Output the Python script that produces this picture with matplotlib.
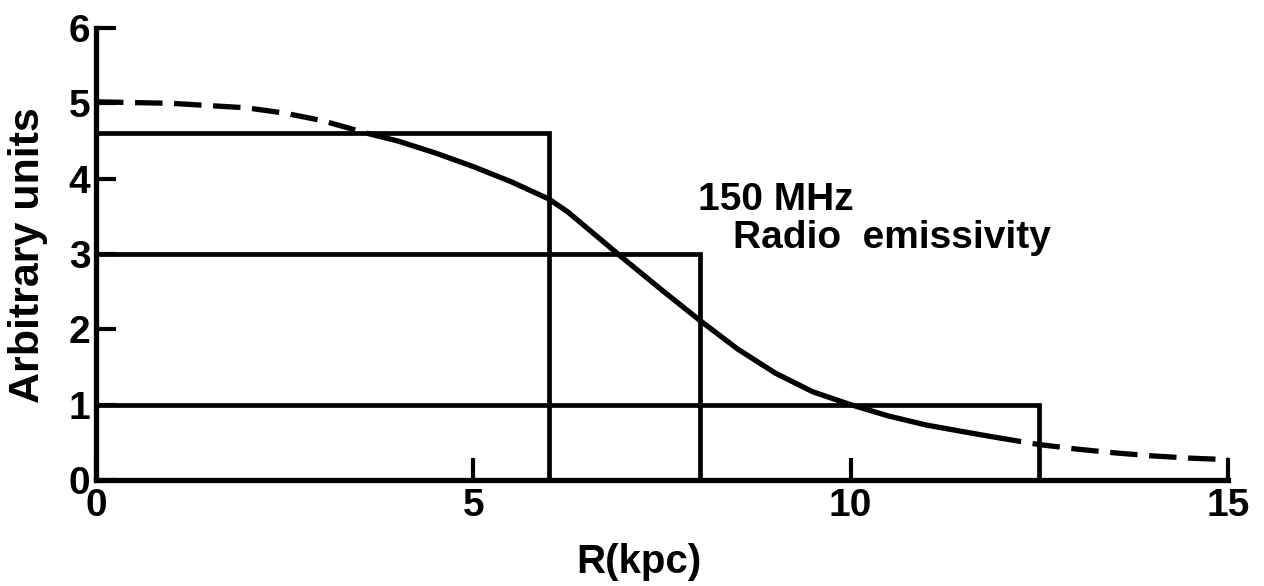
import matplotlib
matplotlib.use("Agg")
import matplotlib.pyplot as plt
from matplotlib import font_manager

# radial profile of the 150 MHz emissivity
r_kpc = [0, 0.5, 1, 1.5, 2, 2.5, 3, 3.6, 4, 4.5, 5, 5.5, 6, 6.25, 6.5, 7, 7.5, 8,
         8.5, 9, 9.5, 10, 10.5, 11, 11.5, 11.9, 12.5, 13, 13.5, 14, 14.5, 15]
emissivity = [5.02, 5.01, 5.0, 4.97, 4.94, 4.87, 4.77, 4.6, 4.5, 4.34, 4.16,
              3.96, 3.73, 3.56, 3.35, 2.93, 2.52, 2.12, 1.74, 1.42, 1.17, 1.0,
              0.85, 0.73, 0.64, 0.57, 0.47, 0.41, 0.36, 0.32, 0.29, 0.27]
solid_from = 3.6   # curve drawn solid between these radii, dashed outside
solid_to = 11.9

# step model: box outer radius and level
box_radius = [6, 8, 12.5]
box_level = [4.6, 3.0, 1.0]

x_ticks = [0, 5, 10, 15]
y_ticks = [0, 1, 2, 3, 4, 5, 6]

names = {f.name for f in font_manager.fontManager.ttflist}
fam = 'Liberation Sans Narrow' if 'Liberation Sans Narrow' in names else 'Liberation Sans'
plt.rcParams['font.family'] = [fam, 'DejaVu Sans']
plt.rcParams['font.weight'] = 'bold'

fig = plt.figure(figsize=(12.64, 5.86), dpi=100)
ax = fig.add_axes([96 / 1264, 1 - 480 / 586, 1132 / 1264, 452 / 586])

lw = 3.4
for w, h in zip(box_radius, box_level):
    ax.plot([0, w, w], [h, h, 0], color='black', lw=lw, solid_joinstyle='miter')

i0 = r_kpc.index(solid_from)
i1 = r_kpc.index(solid_to)
ax.plot(r_kpc[:i0 + 1], emissivity[:i0 + 1], color='black', lw=lw + 0.4,
        linestyle=(0, (5.2, 2.2)))
ax.plot(r_kpc[i0:i1 + 1], emissivity[i0:i1 + 1], color='black', lw=lw + 0.4,
        solid_capstyle='butt')
ax.plot(r_kpc[i1:], emissivity[i1:], color='black', lw=lw + 0.4,
        linestyle=(0, (5.2, 2.2)))

ax.text(7.98, 3.58, '150 MHz', fontsize=28, fontweight='bold', va='baseline')
ax.text(8.44, 3.08, 'Radio  emissivity', fontsize=28, fontweight='bold',
        va='baseline')

ax.set_xlim(0, 15)
ax.set_ylim(0, 6)
ax.set_xticks(x_ticks)
ax.set_yticks(y_ticks)
ax.set_xticklabels([str(t) for t in x_ticks])
ax.set_yticklabels([str(t) for t in y_ticks])
ax.tick_params(axis='both', direction='in', width=3.0, labelsize=28)
ax.tick_params(axis='y', length=14.5, pad=4)
ax.tick_params(axis='x', length=16, pad=6)
for lab in ax.get_xticklabels() + ax.get_yticklabels():
    lab.set_fontweight('bold')

for side in ['top', 'right']:
    ax.spines[side].set_visible(False)
for side in ['left', 'bottom']:
    ax.spines[side].set_linewidth(3.8)

ax.set_xlabel('R(kpc)', fontsize=29, fontweight='bold')
ax.xaxis.set_label_coords(543 / 1132, -63 / 452)
ax.set_ylabel('Arbitrary units', fontsize=31, fontweight='bold')
ax.yaxis.set_label_coords(-48 / 1132, 0.498)

fig.savefig('out.png', dpi=100)
